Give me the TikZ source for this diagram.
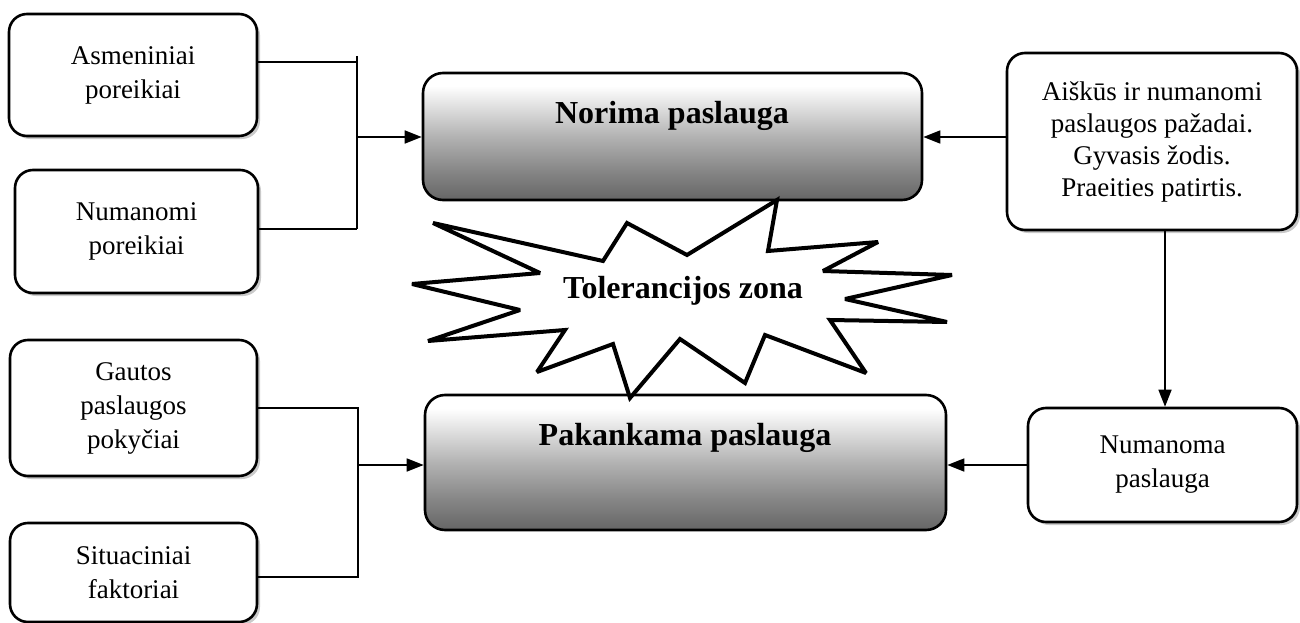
\documentclass[tikz,border=0pt]{standalone}
\usepackage{fontspec}
\setmainfont{Liberation Serif}
\usetikzlibrary{arrows.meta,shadows}
\pgfdeclareverticalshading{boxgrad}{100bp}{color(0bp)=(black!60); color(25bp)=(black!60); color(36bp)=(black!48); color(50bp)=(black!30); color(62bp)=(black!12); color(70bp)=(white); color(100bp)=(white)}
\begin{document}
\begin{tikzpicture}[x=1pt,y=-1pt,
  wbox/.style={draw, line width=2.6pt, rounded corners=18pt, fill=white,
    drop shadow={shadow xshift=3pt, shadow yshift=-3pt, fill=black!35, opacity=0.6},
    align=center, font=\fontsize{27}{34}\selectfont, inner sep=0pt},
  gbox/.style={draw, line width=2.6pt, rounded corners=20pt, shading=boxgrad, inner sep=0pt},
  big/.style={font=\bfseries\fontsize{32}{36}\selectfont, inner sep=0pt},
  conn/.style={line width=1.4pt},
  arr/.style={line width=1.6pt, -{Triangle[length=17pt,width=13pt]}}]
\useasboundingbox (0,0) rectangle (1300,623);

% left boxes
\node[wbox, minimum width=248pt, minimum height=122pt] (asm) at (133,75) {Asmeniniai\\poreikiai};
\node[wbox, minimum width=243pt, minimum height=123pt] (num) at (136.5,231.5) {Numanomi\\poreikiai};
\node[wbox, minimum width=247pt, minimum height=136pt] (gau) at (133.5,408) {Gautos\\paslaugos\\pokyčiai};
\node[wbox, minimum width=247pt, minimum height=99pt] (sit) at (133.5,572.5) {Situaciniai\\faktoriai};

% central boxes
\node[gbox, minimum width=499pt, minimum height=127pt] (nor) at (672.5,136.5) {};
\node[gbox, minimum width=521pt, minimum height=135pt] (pak) at (685.5,462.5) {};

% right boxes
\node[wbox, minimum width=290pt, minimum height=177pt, font=\fontsize{27}{32}\selectfont] (ais) at (1152,141.5)
  {Aiškūs ir numanomi\\paslaugos pažadai.\\Gyvasis žodis.\\Praeities patirtis.};
\node[wbox, minimum width=269pt, minimum height=114pt] (numa) at (1162.5,465) {Numanoma\\paslauga};

% starburst
\draw[line width=4pt, fill=white, line join=miter, miter limit=2.5]
  (433,223) -- (603,261) -- (627,223) -- (687,255) -- (777,200) -- (768,251)
  -- (878,242) -- (823,271) -- (952,275) -- (845,299) -- (947,322) -- (830,320)
  -- (866,373) -- (765,335) -- (745,383) -- (680,339) -- (630,398) -- (613,344)
  -- (537,372) -- (565,330) -- (428,341) -- (520,310) -- (412,284) -- (540,273) -- cycle;

% texts
\node[big] (nort) at (672,116) {Norima paslauga};
\node[big] (pakt) at (685,438) {Pakankama paslauga};
\node[big] (tol) at (683,291) {Tolerancijos zona};

% left connectors (top)
\coordinate (j1top) at (357,56);
\coordinate (j1a) at (357,62);
\coordinate (j1b) at (357,229);
\coordinate (j1m) at (357,137);
\draw[conn] (asm.east |- j1a) -- (j1a);
\draw[conn] (num.east |- j1b) -- (j1b);
\draw[conn] (j1top) -- (j1b);
\draw[arr] (j1m) -- (nor.west |- j1m);

% left connectors (bottom)
\coordinate (j2a) at (358,408);
\coordinate (j2b) at (358,577);
\coordinate (j2m) at (358,465);
\draw[conn] (gau.east |- j2a) -- (j2a) -- (j2b) -- (sit.east |- j2b);
\draw[arr] (j2m) -- (pak.west |- j2m);

% right connectors
\coordinate (vx) at (1165,0);
\draw[arr] (ais.west |- j1m) -- (nor.east |- j1m);
\draw[arr] (ais.south -| vx) -- (numa.north -| vx);
\draw[arr] (numa.west |- j2m) -- (pak.east |- j2m);
\end{tikzpicture}
\end{document}
